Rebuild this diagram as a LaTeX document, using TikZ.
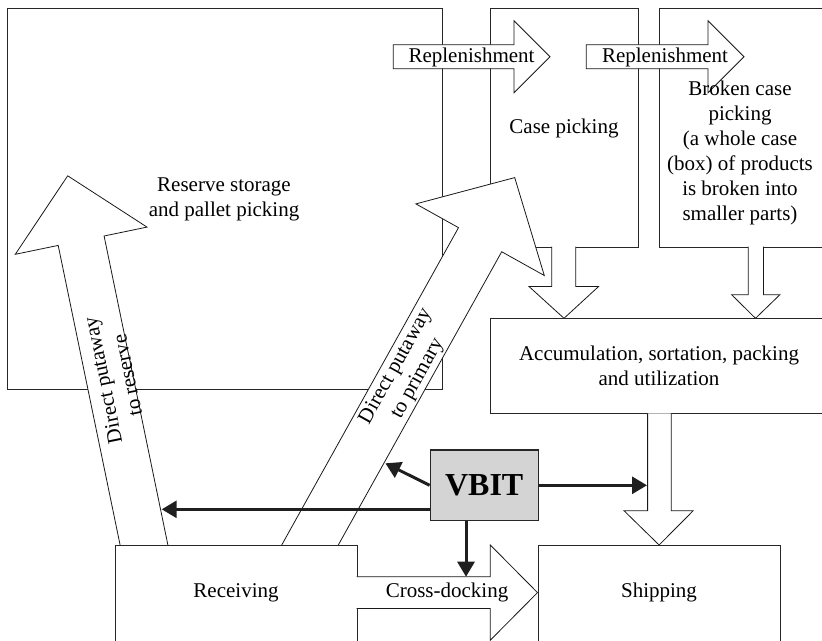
\documentclass[tikz,border=0pt]{standalone}
\usepackage{fontspec}
\setmainfont{Liberation Serif}
\usetikzlibrary{arrows.meta}
\tikzset{
  box/.style={draw=black!85, line width=0.9pt, fill=white, inner sep=0pt, anchor=north west},
  blk/.style={draw=black!90, line width=0.8pt, fill=white, line join=miter},
  lbl/.style={font=\fontsize{21}{25}\selectfont, align=center, inner sep=0pt},
  ctl/.style={draw=black!88, line width=3pt, -{Triangle[length=15pt,width=17pt]}},
}
\begin{document}
\begin{tikzpicture}[x=1pt,y=-1pt]
\useasboundingbox (0,0) rectangle (822,640);
% storage areas
\node[box, minimum width=435pt, minimum height=380.7pt] (reserve) at (6.7,8.3) {};
\node[lbl] (reservelbl) at (224,199.5) {Reserve storage\\and pallet picking};
\node[box, minimum width=148pt, minimum height=238.4pt] (case) at (490,8.3) {};
\node[box, minimum width=165pt, minimum height=238.4pt] (broken) at (659,8.3) {};
% replenishment arrows
\draw[blk] (393.3,44.7) -- (514,44.7) -- (514,20.7) -- (550,56.7) -- (514,92.7) -- (514,68.7) -- (393.3,68.7) -- cycle;
\node[lbl] (rep1) at (471.5,57) {Replenishment};
\draw[blk] (586.3,44.7) -- (708,44.7) -- (708,20.7) -- (744,56.7) -- (708,92.7) -- (708,68.7) -- (586.3,68.7) -- cycle;
\node[lbl] (rep2) at (665,57) {Replenishment};
\node[lbl] (caselbl) at (564,128) {Case picking};
\node[lbl] (brokenlbl) at (740,152.5) {Broken case\\picking\\(a whole case\\(box) of products\\is broken into\\smaller parts)};
% direct putaway to primary
\draw[blk] (281.7,545) -- (458.5,227.65) -- (415.9,203.9) -- (514.7,177.6) -- (544.3,275.5) -- (501.7,251.75) -- (338.3,545);
\node[lbl, rotate=60.9] (prim) at (407,372.5) {Direct putaway\\to primary};
% direct putaway to reserve
\draw[blk] (120.1,545) -- (58.2,245.4) -- (15.3,254.3) -- (67.7,175.8) -- (147.0,227.1) -- (104.1,236.0) -- (167.9,545);
\node[lbl, rotate=101.67] (resv) at (115,378) {Direct putaway\\to reserve};
% down arrows to accumulation
\draw[blk] (551.8,246.7) -- (551.8,286.5) -- (529,286.5) -- (564,318.3) -- (598.6,286.5) -- (575.8,286.5) -- (575.8,246.7);
\draw[blk] (748.2,246.7) -- (748.2,294.7) -- (731.6,294.7) -- (755.5,318.3) -- (779.9,294.7) -- (763.5,294.7) -- (763.5,246.7);
\node[box, minimum width=340pt, minimum height=95pt] (accum) at (490,318.3) {};
\node[lbl] (accumlbl) at (659,365.8) {Accumulation, sortation, packing\\and utilization};
% arrow to shipping
\draw[blk] (647.6,413.3) -- (647.6,510.7) -- (624,510.7) -- (659.1,545) -- (693.2,510.7) -- (671.2,510.7) -- (671.2,413.3);
% receiving and shipping
\node[box, minimum width=241.2pt, minimum height=96pt] (recv) at (115.4,545) {};
\node[lbl] (recvlbl) at (236,592.7) {Receiving};
\node[box, minimum width=242.3pt, minimum height=96pt] (ship) at (537.5,545) {};
\node[lbl] (shiplbl) at (659,592.7) {Shipping};
% cross-docking
\draw[blk] (356.6,576.7) -- (490.3,576.7) -- (490.3,545) -- (537.5,592.6) -- (490.3,640.2) -- (490.3,608.4) -- (356.6,608.4);
\node[lbl] (crosslbl) at (447,592.7) {Cross-docking};
% VBIT
\node[draw=black!85, line width=1.2pt, fill=black!17, minimum width=108pt, minimum height=70.5pt, inner sep=0pt,
      font=\fontsize{32}{36}\selectfont\bfseries] (vbit) at (484.2,485.3) {VBIT};
\coordinate (tprim) at (385.4,463.3);
\coordinate (tres) at (161.7,509.3);
\coordinate (tship) at (647,485.3);
\coordinate (tcross) at (466,576.7);
\draw[ctl] (vbit.west) -- (tprim);
\draw[ctl] (vbit.west |- tres) -- (tres);
\draw[ctl] (vbit.east) -- (tship);
\draw[ctl] (vbit.south -| tcross) -- (tcross);
\end{tikzpicture}
\end{document}
